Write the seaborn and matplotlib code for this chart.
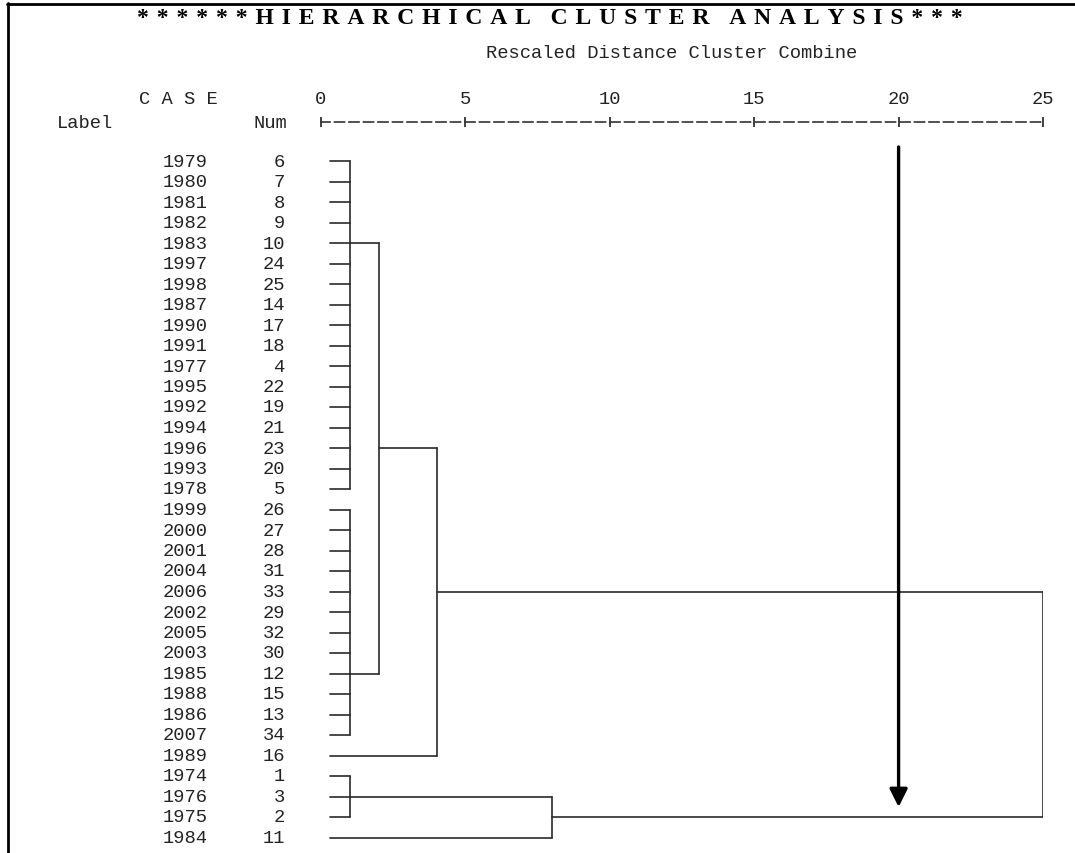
import matplotlib
matplotlib.use("Agg")
import matplotlib.pyplot as plt
from matplotlib.lines import Line2D
import numpy as np
import pandas as pd
import seaborn as sns

# ---------------- data ----------------
years = ["1979", "1980", "1981", "1982", "1983", "1997", "1998", "1987", "1990",
         "1991", "1977", "1995", "1992", "1994", "1996", "1993", "1978", "1999",
         "2000", "2001", "2004", "2006", "2002", "2005", "2003", "1985", "1988",
         "1986", "2007", "1989", "1974", "1976", "1975", "1984"]
nums = [6, 7, 8, 9, 10, 24, 25, 14, 17, 18, 4, 22, 19, 21, 23, 20, 5, 26, 27,
        28, 31, 33, 29, 32, 30, 12, 15, 13, 34, 16, 1, 3, 2, 11]

# merges (leaf ids 0..33 are the rows; merge k gets id 34+k)
merge_children = [list(range(0, 17)), list(range(17, 29)), [34, 35], [36, 29],
                  [30, 31, 32], [38, 33], [37, 39]]
merge_heights = [1, 1, 2, 4, 1, 8, 25]
merge_out_rows = [4, 25, 14, 21, 31, 32, None]

tick_values = [0, 5, 10, 15, 20, 25]
arrow_distance = 20
title_words = ["******HIERARCHICAL", "CLUSTER", "ANALYSIS***"]

# ---------------- layout (pixels) ----------------
W, H = 1075, 854
X0, X25 = 321, 1043          # pixel of distance 0 and 25
ROW0, ROWSTEP = 162, 20.5    # pixel of row 0 and row spacing
AX_TOP, AX_BOT = 123, 849
leaf_start = 0.3
MONO = 13.5

def fx(px):
    return px / W

def fy(py):
    return 1 - py / H

n = len(years)
heights = [0.0] * n + list(map(float, merge_heights))
out_rows = list(range(n)) + merge_out_rows

segs = []
sid = 0
for k, ch in enumerate(merge_children):
    h = merge_heights[k]
    rows = []
    for c in ch:
        r = out_rows[c]
        x0 = leaf_start if c < n else heights[c]
        segs += [(x0, r, sid), (h, r, sid)]
        sid += 1
        rows.append(r)
    segs += [(h, min(rows), sid), (h, max(rows), sid)]
    sid += 1
df = pd.DataFrame(segs, columns=["dist", "row", "seg"])

# ---------------- figure ----------------
sns.set_theme(style="white")
plt.rcParams["font.family"] = ["Liberation Mono", "DejaVu Sans Mono"]

fig = plt.figure(figsize=(W / 100, H / 100), dpi=100)
fig.patch.set_facecolor("white")
ax = fig.add_axes([fx(X0), fy(AX_BOT), fx(X25) - fx(X0), fy(AX_TOP) - fy(AX_BOT)])
ax.set_facecolor("white")

sns.lineplot(data=df, x="dist", y="row", units="seg", estimator=None, sort=False,
             color="#2a2a2a", lw=1.2, legend=False, ax=ax)

ax.set_xlim(0, 25)
ax.set_ylim((AX_BOT - ROW0) / ROWSTEP, (AX_TOP - ROW0) / ROWSTEP)
ax.set_xlabel("")
ax.set_ylabel("")
ax.set_yticks([])
for s in ["left", "right", "bottom"]:
    ax.spines[s].set_visible(False)
ax.spines["top"].set_visible(True)
ax.spines["top"].set_color("#333333")
ax.spines["top"].set_linewidth(1.2)
ax.spines["top"].set_linestyle((0.6, (6.0, 2.7)))
ax.xaxis.tick_top()
ax.set_xticks(tick_values)
ax.set_xticklabels([str(v) for v in tick_values])
ax.tick_params(axis="x", direction="inout", length=7, width=1.3, colors="#333333",
               pad=7.5, labelsize=MONO, labelcolor="#222222")

# case labels
px_per_unit = (X25 - X0) / 25
year_x = (185 - X0) / px_per_unit
num_x = (285 - X0) / px_per_unit
for i, (yr, nm) in enumerate(zip(years, nums)):
    ax.text(year_x, i, yr, ha="center", va="center", fontsize=MONO,
            color="#222222", clip_on=False)
    ax.text(num_x, i, str(nm), ha="right", va="center", fontsize=MONO,
            color="#222222", clip_on=False)

# arrow
tip_row = (808 - ROW0) / ROWSTEP
start_row = (148 - ROW0) / ROWSTEP
ax.annotate("", xy=(arrow_distance, tip_row), xytext=(arrow_distance, start_row),
            arrowprops=dict(arrowstyle="-|>", lw=2.4, color="black",
                            mutation_scale=27, shrinkA=0, shrinkB=0))

# header texts (title is letter-spaced as in the reference)
gap = "\u2004"
title = ("\u2002" + gap).join(gap.join(w) for w in title_words)
fig.text(fx(550), fy(18.5), title, ha="center", va="center",
         family=["Liberation Serif", "DejaVu Serif"], weight="bold", fontsize=17,
         color="black")
fig.text(fx(672), fy(53), "Rescaled Distance Cluster Combine", ha="center",
         va="center", fontsize=MONO, color="#222222")
fig.text(fx(178), fy(100), "C A S E", ha="center", va="center", fontsize=MONO,
         color="#222222")
fig.text(fx(57), fy(123), "Label", ha="left", va="center", fontsize=MONO,
         color="#222222")
fig.text(fx(287), fy(123), "Num", ha="right", va="center", fontsize=MONO,
         color="#222222")

# border
fig.add_artist(Line2D([fx(8), fx(8)], [fy(4), fy(H)], transform=fig.transFigure,
                      color="black", lw=2))
fig.add_artist(Line2D([fx(7), fx(W)], [fy(4.5), fy(4.5)], transform=fig.transFigure,
                      color="black", lw=2))

fig.savefig("out.png", dpi=100, facecolor="white")
